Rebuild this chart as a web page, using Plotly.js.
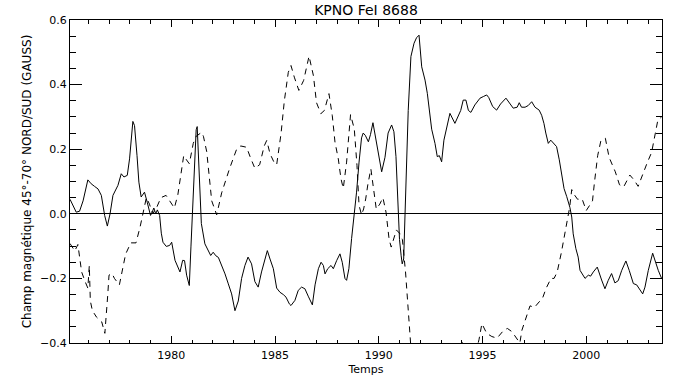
<!DOCTYPE html>
<html>
<head>
<meta charset="utf-8">
<script src="https://cdn.plot.ly/plotly-3.0.1.min.js"></script>
<style>html,body{margin:0;padding:0;background:#fff;}#chart{width:683px;height:384px;}</style>
</head>
<body>
<div id="chart"></div>
<script>
// Title / axis labels
const chartTitle = "KPNO FeI 8688";
const xTitle = "Temps";
const yTitle = "Champ magnétique 45°-70° NORD/SUD (GAUSS)";

// Solid series (years, field in gauss)
const solidYears = [1975.12,1975.3,1975.42,1975.58,1975.75,1975.98,1976.14,1976.3,1976.47,1976.63,1976.79,1976.92,1977.05,1977.19,1977.43,1977.59,1977.72,1977.88,1977.99,1978.15,1978.23,1978.35,1978.44,1978.55,1978.71,1978.84,1979.0,1979.08,1979.16,1979.25,1979.33,1979.44,1979.52,1979.6,1979.76,1979.92,1980.02,1980.18,1980.42,1980.55,1980.64,1980.74,1980.87,1980.95,1981.05,1981.2,1981.25,1981.35,1981.45,1981.62,1981.78,1981.9,1982.02,1982.15,1982.27,1982.43,1982.59,1982.75,1982.91,1983.07,1983.15,1983.23,1983.39,1983.55,1983.7,1983.87,1984.03,1984.19,1984.35,1984.52,1984.63,1984.76,1984.92,1985.08,1985.24,1985.4,1985.53,1985.69,1985.77,1985.96,1986.12,1986.28,1986.44,1986.6,1986.8,1986.93,1987.09,1987.22,1987.33,1987.41,1987.54,1987.7,1987.81,1987.97,1988.13,1988.24,1988.37,1988.45,1988.56,1988.69,1988.82,1988.93,1989.05,1989.17,1989.25,1989.35,1989.5,1989.6,1989.72,1989.9,1990.05,1990.14,1990.3,1990.45,1990.62,1990.73,1990.83,1990.9,1991.0,1991.08,1991.13,1991.2,1991.3,1991.42,1991.55,1991.7,1991.82,1991.94,1992.07,1992.23,1992.34,1992.43,1992.55,1992.71,1992.82,1992.92,1993.03,1993.14,1993.27,1993.43,1993.67,1993.83,1993.95,1994.07,1994.2,1994.32,1994.44,1994.63,1994.88,1995.04,1995.2,1995.3,1995.49,1995.68,1995.87,1996.13,1996.32,1996.48,1996.67,1996.77,1996.88,1997.05,1997.2,1997.37,1997.53,1997.73,1997.85,1997.96,1998.05,1998.17,1998.29,1998.41,1998.57,1998.7,1998.82,1998.93,1999.06,1999.21,1999.3,1999.37,1999.5,1999.61,1999.7,1999.83,1999.94,2000.1,2000.21,2000.34,2000.53,2000.74,2000.9,2001.06,2001.22,2001.38,2001.54,2001.71,2001.91,2002.07,2002.27,2002.43,2002.59,2002.72,2002.83,2002.99,2003.2,2003.31,2003.47,2003.63];
const solidValues = [0.045,0.02,0.005,0.008,0.04,0.105,0.093,0.085,0.077,0.057,-0.005,-0.038,0.0,0.057,0.088,0.124,0.114,0.119,0.17,0.286,0.273,0.18,0.098,0.052,0.067,0.036,-0.005,0.005,0.018,0.0,0.012,-0.005,-0.06,-0.088,-0.101,-0.098,-0.088,-0.144,-0.18,-0.144,-0.145,-0.19,-0.222,-0.1,0.05,0.26,0.27,0.1,-0.03,-0.093,-0.113,-0.129,-0.119,-0.13,-0.135,-0.16,-0.186,-0.217,-0.248,-0.3,-0.285,-0.27,-0.2,-0.16,-0.134,-0.155,-0.21,-0.227,-0.18,-0.14,-0.114,-0.14,-0.17,-0.23,-0.243,-0.25,-0.258,-0.279,-0.284,-0.268,-0.237,-0.227,-0.232,-0.255,-0.282,-0.22,-0.17,-0.15,-0.16,-0.186,-0.17,-0.16,-0.17,-0.145,-0.124,-0.15,-0.2,-0.206,-0.17,-0.077,-0.005,0.067,0.16,0.235,0.25,0.243,0.223,0.245,0.282,0.216,0.156,0.13,0.175,0.25,0.275,0.254,0.177,0.043,-0.08,-0.13,-0.155,-0.14,0.04,0.32,0.487,0.528,0.545,0.553,0.455,0.414,0.373,0.32,0.262,0.218,0.177,0.18,0.161,0.228,0.262,0.311,0.28,0.306,0.32,0.352,0.352,0.32,0.314,0.337,0.358,0.363,0.368,0.36,0.332,0.321,0.34,0.358,0.34,0.327,0.33,0.344,0.33,0.33,0.335,0.347,0.33,0.321,0.305,0.28,0.25,0.218,0.228,0.22,0.208,0.167,0.115,0.078,0.053,0.02,-0.01,-0.062,-0.108,-0.134,-0.175,-0.19,-0.2,-0.19,-0.193,-0.18,-0.165,-0.205,-0.232,-0.206,-0.185,-0.214,-0.207,-0.175,-0.146,-0.175,-0.216,-0.22,-0.237,-0.248,-0.227,-0.175,-0.122,-0.145,-0.175,-0.2];

// Dashed series (years, field in gauss)
const dashedYears = [1975.12,1975.25,1975.35,1975.5,1975.6,1975.68,1975.85,1975.98,1976.05,1976.1,1976.2,1976.4,1976.65,1976.8,1976.94,1977.0,1977.15,1977.26,1977.5,1977.65,1977.8,1978.05,1978.3,1978.5,1978.65,1978.8,1978.95,1979.1,1979.3,1979.5,1979.75,1980.0,1980.15,1980.32,1980.5,1980.6,1980.7,1980.87,1981.06,1981.2,1981.46,1981.55,1981.71,1981.82,1981.95,1982.19,1982.43,1982.81,1983.15,1983.35,1983.63,1983.84,1984.03,1984.26,1984.48,1984.6,1984.76,1984.95,1985.08,1985.29,1985.45,1985.64,1985.77,1985.93,1986.15,1986.38,1986.64,1986.85,1987.0,1987.21,1987.38,1987.6,1987.76,1987.89,1988.05,1988.18,1988.29,1988.45,1988.56,1988.64,1988.82,1988.95,1989.05,1989.17,1989.27,1989.37,1989.48,1989.62,1989.75,1989.88,1990.05,1990.2,1990.35,1990.5,1990.6,1990.72,1990.85,1991.0,1991.14,1991.29,1991.38,1991.5,1991.6,1992.0,1992.5,1993.0,1993.5,1993.9,1994.0,1994.1,1994.5,1994.75,1994.83,1994.97,1995.2,1995.45,1995.7,1996.03,1996.2,1996.42,1996.7,1996.8,1996.9,1997.1,1997.29,1997.5,1997.77,1997.9,1998.07,1998.3,1998.45,1998.6,1998.8,1999.0,1999.2,1999.3,1999.36,1999.58,1999.8,2000.0,2000.3,2000.4,2000.55,2000.7,2000.92,2001.1,2001.4,2001.6,2001.8,2002.1,2002.3,2002.5,2002.75,2002.95,2003.15,2003.3,2003.45,2003.63];
const dashedValues = [-0.092,-0.105,-0.115,-0.095,-0.14,-0.18,-0.21,-0.23,-0.16,-0.27,-0.3,-0.32,-0.335,-0.37,-0.25,-0.19,-0.185,-0.2,-0.22,-0.17,-0.125,-0.09,-0.09,-0.04,0.01,0.05,0.03,0.0,0.02,0.05,0.057,0.03,0.018,0.06,0.136,0.18,0.17,0.155,0.218,0.24,0.252,0.24,0.192,0.11,0.04,-0.003,0.065,0.14,0.2,0.21,0.206,0.17,0.141,0.152,0.21,0.227,0.186,0.16,0.152,0.248,0.35,0.438,0.459,0.423,0.382,0.413,0.488,0.428,0.344,0.31,0.32,0.372,0.304,0.222,0.17,0.108,0.079,0.16,0.243,0.307,0.263,0.15,0.026,-0.003,0.015,0.046,0.093,0.139,0.077,0.015,0.03,0.05,0.005,-0.08,-0.103,-0.077,-0.05,-0.06,-0.08,-0.18,-0.27,-0.38,-0.46,-0.52,-0.55,-0.5,-0.46,-0.42,-0.394,-0.42,-0.44,-0.41,-0.39,-0.34,-0.37,-0.38,-0.385,-0.36,-0.355,-0.365,-0.39,-0.4,-0.36,-0.32,-0.285,-0.29,-0.27,-0.26,-0.23,-0.2,-0.2,-0.18,-0.12,-0.05,0.02,0.075,0.065,0.045,0.046,0.01,0.04,0.1,0.18,0.225,0.234,0.175,0.13,0.09,0.083,0.12,0.105,0.085,0.13,0.16,0.19,0.24,0.29,0.3];

const xRange = [1975.12, 2003.65];
const yRange = [-0.4, 0.6];

const traces = [
  {x: solidYears, y: solidValues, type: 'scatter', mode: 'lines',
   line: {color: '#000', width: 1}, hoverinfo: 'skip'},
  {x: dashedYears, y: dashedValues, type: 'scatter', mode: 'lines',
   line: {color: '#000', width: 1, dash: '6px,5px'}, hoverinfo: 'skip'}
];

const fontFam = 'DejaVu Sans, sans-serif';
const layout = {
  width: 683, height: 384,
  margin: {l: 70, r: 21, t: 20, b: 41, pad: 0},
  paper_bgcolor: '#fff', plot_bgcolor: '#fff',
  showlegend: false,
  font: {family: fontFam, size: 11, color: '#000'},
  title: {text: chartTitle, font: {family: fontFam, size: 14, color: '#000'},
          x: 0.5, xref: 'paper', y: 0.975, yref: 'container', yanchor: 'middle'},
  xaxis: {
    range: xRange, showgrid: false, zeroline: false,
    showline: true, linecolor: '#000', linewidth: 1, mirror: 'allticks',
    ticks: 'inside', ticklen: 7, tickwidth: 1, tickcolor: '#000',
    tick0: 1980, dtick: 5, ticklabelstandoff: 2,
    minor: {dtick: 1, tick0: 1980, ticks: 'inside', ticklen: 3.5, tickwidth: 1, tickcolor: '#000', showgrid: false},
    tickfont: {family: fontFam, size: 11, color: '#000'},
    title: {text: xTitle, font: {family: fontFam, size: 11, color: '#000'}, standoff: 4}
  },
  yaxis: {
    range: yRange, showgrid: false,
    zeroline: true, zerolinecolor: '#000', zerolinewidth: 1,
    showline: true, linecolor: '#000', linewidth: 1, mirror: 'allticks',
    ticks: 'inside', ticklen: 12, tickwidth: 1, tickcolor: '#000',
    tick0: 0, dtick: 0.2, tickformat: '.1f',
    minor: {dtick: 0.05, tick0: 0, ticks: 'inside', ticklen: 6, tickwidth: 1, tickcolor: '#000', showgrid: false},
    tickfont: {family: fontFam, size: 11, color: '#000'},
    title: {text: yTitle, font: {family: fontFam, size: 12, color: '#000'}, standoff: 5}
  }
};

Plotly.newPlot('chart', traces, layout, {staticPlot: true, displayModeBar: false});
</script>
</body>
</html>
